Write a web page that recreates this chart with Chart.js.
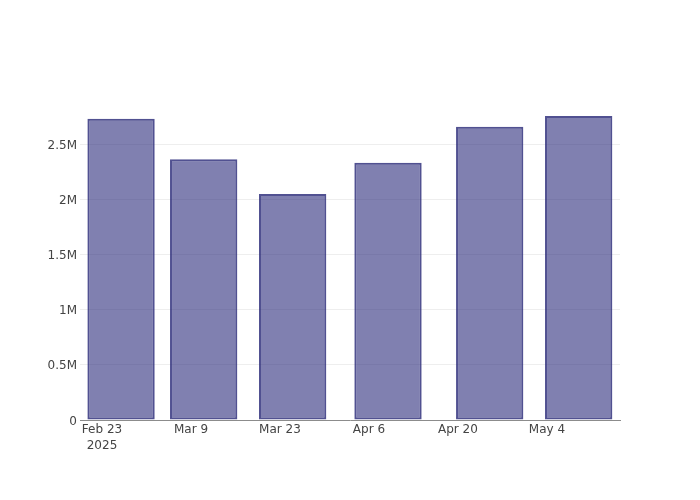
<!DOCTYPE html>
<html lang="en">
  <head>
    <meta charset="UTF-8" />
    <title>Weekly totals</title>
    <script src="https://cdn.jsdelivr.net/npm/chart.js"></script>
    <style>
      html,
      body {
        margin: 0;
        padding: 0;
        background: #ffffff;
      }
      #wrap {
        width: 700px;
        height: 500px;
      }
    </style>
  </head>
  <body>
    <div id="wrap"><canvas id="myChart" width="700" height="500"></canvas></div>
    <script>
      // bar dates and values
      const dates = ["2025-02-26", "2025-03-11", "2025-03-25", "2025-04-09", "2025-04-25", "2025-05-09"];
      const values = [2731000, 2364000, 2047000, 2332000, 2658000, 2754000];

      // axis ticks
      const xTickDates = ["2025-02-23", "2025-03-09", "2025-03-23", "2025-04-06", "2025-04-20", "2025-05-04"];
      const xTickLabels = [["Feb 23", "2025"], "Mar 9", "Mar 23", "Apr 6", "Apr 20", "May 4"];
      const yTicks = [0, 500000, 1000000, 1500000, 2000000, 2500000];
      const yTickLabels = ["0", "0.5M", "1M", "1.5M", "2M", "2.5M"];

      // days counted from the first tick date
      const origin = Date.UTC(2025, 1, 23);
      const toDay = (s) => {
        const [y, m, d] = s.split("-").map(Number);
        return (Date.UTC(y, m - 1, d) - origin) / 86400000;
      };

      const points = dates.map((d, i) => ({ x: toDay(d), y: values[i] }));
      const xTickDays = xTickDates.map(toDay);

      const tickFont = { family: "'DejaVu Sans', sans-serif", size: 12, lineHeight: 1.33 };

      const ctx = document.getElementById("myChart").getContext("2d");
      new Chart(ctx, {
        type: "bar",
        data: {
          datasets: [
            {
              data: points,
              backgroundColor: "rgba(43, 43, 123, 0.6)",
              borderColor: "rgba(38, 38, 118, 0.8)",
              borderWidth: 2,
              borderSkipped: false,
              inflateAmount: 0,
              categoryPercentage: 0.815,
              barPercentage: 1.0,
            },
          ],
        },
        options: {
          responsive: false,
          animation: false,
          layout: {
            padding: { left: 0, top: 100, right: 80, bottom: 0 },
          },
          plugins: {
            legend: { display: false },
            tooltip: { enabled: false },
          },
          scales: {
            x: {
              type: "linear",
              offset: false,
              min: -3.46,
              max: 81.5,
              grid: { display: false, offset: false, drawTicks: false },
              border: { display: true, color: "#8c8c8c", width: 1 },
              afterBuildTicks: (scale) => {
                scale.ticks = xTickDays.map((v) => ({ value: v }));
              },
              afterFit: (scale) => {
                scale.height = 80;
              },
              ticks: {
                autoSkip: false,
                maxRotation: 0,
                padding: 2,
                color: "#444",
                font: tickFont,
                callback: (value, index) => xTickLabels[index],
              },
            },
            y: {
              min: 0,
              max: 2900000,
              grid: { color: "#eeeeee", lineWidth: 1, drawTicks: false },
              border: { display: false },
              afterBuildTicks: (scale) => {
                scale.ticks = yTicks.map((v) => ({ value: v }));
              },
              afterFit: (scale) => {
                scale.width = 80;
              },
              ticks: {
                padding: 3,
                labelOffset: 1.5,
                color: "#444",
                font: tickFont,
                callback: (value, index) => yTickLabels[index],
              },
            },
          },
        },
      });
    </script>
  </body>
</html>
